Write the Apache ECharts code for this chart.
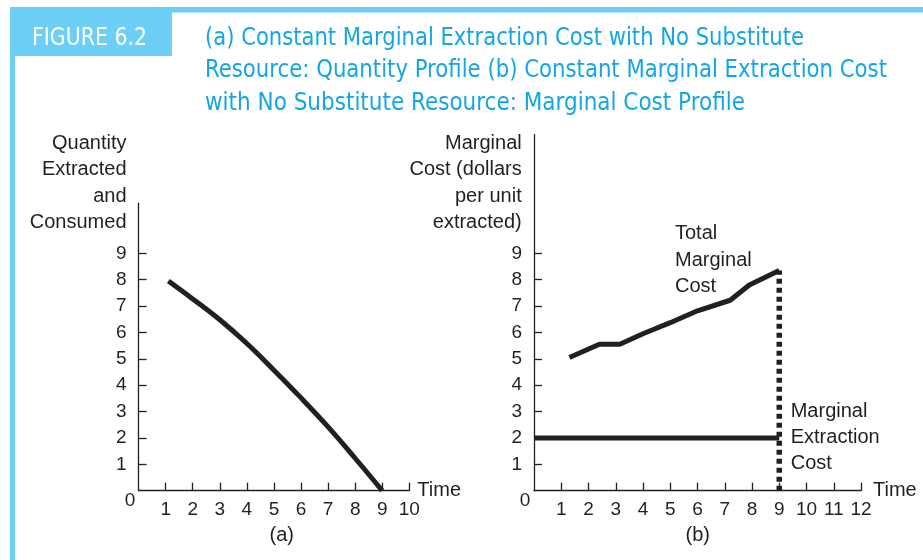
<!DOCTYPE html>
<html>
<head>
<meta charset="utf-8">
<title>Figure 6.2</title>
<script src="https://cdn.jsdelivr.net/npm/echarts@6/dist/echarts.min.js"></script>
<style>
  html, body { margin: 0; padding: 0; background: #fff; }
  #chart { width: 923px; height: 560px; }
</style>
</head>
<body>
<div id="chart"></div>
<script>
// (a) quantity profile
const timeA = [1.1, 2, 3, 4, 5, 6, 7, 8, 9]
const quantityA = [7.95, 7.27, 6.48, 5.58, 4.57, 3.52, 2.42, 1.23, 0]
// (b) marginal cost profile
const timeB = [1.3, 2.4, 3.15, 4, 5, 6, 7.2, 7.9, 9]
const totalMC = [5.05, 5.55, 5.55, 5.95, 6.37, 6.82, 7.22, 7.8, 8.35]
const mecTime = [0, 9]
const mecCost = [2, 2]
const exhaustTime = [9, 9]
const exhaustCost = [0, 8.35]
// tick labels
const xTicksA = [1, 2, 3, 4, 5, 6, 7, 8, 9, 10]
const xTicksB = [1, 2, 3, 4, 5, 6, 7, 8, 9, 10, 11, 12]
const yTicks = [1, 2, 3, 4, 5, 6, 7, 8, 9]
const titleLines = [
  '(a) Constant Marginal Extraction Cost with No Substitute',
  'Resource: Quantity Profile (b) Constant Marginal Extraction Cost',
  'with No Substitute Resource: Marginal Cost Profile'
]

const INK = '#231f20'
const SANS = '"Liberation Sans", Arial, Helvetica, sans-serif'
const NARROW = '"Liberation Sans Narrow", "DejaVu Sans Condensed", "Liberation Sans", sans-serif'
const LIGHT_BLUE = '#6dcff6'
const TITLE_BLUE = '#14a6e2'

const zip = (xs, ys) => xs.map((x, i) => [x, ys[i]])

// squeeze the condensed header text to the printed widths
const measureCtx = document.createElement('canvas').getContext('2d')
function fitScale (text, font, target) {
  measureCtx.font = font
  return target / measureCtx.measureText(text).width
}

function headerText (text, x, y, size, color, width) {
  const font = size + 'px ' + NARROW
  return {
    type: 'text',
    x: x,
    y: y,
    scaleX: fitScale(text, font, width),
    style: { text: text, font: font, fill: color, align: 'left', verticalAlign: 'bottom' }
  }
}

function label (text, x, y, align, extra) {
  return {
    type: 'text',
    x: x,
    y: y,
    style: Object.assign({
      text: text,
      font: '20px ' + SANS,
      fill: INK,
      align: align,
      verticalAlign: 'middle',
      lineHeight: 26.3
    }, extra || {})
  }
}

function xAxisCfg (gridIndex, max, ticks, gap) {
  return {
    type: 'value',
    gridIndex: gridIndex,
    min: 0,
    max: max,
    axisLine: { onZero: false, lineStyle: { color: INK, width: 1.3 } },
    axisTick: { inside: true, length: 8, customValues: ticks, lineStyle: { color: INK, width: 1.3 } },
    axisLabel: { customValues: ticks, margin: 10, color: INK, fontSize: 19, fontFamily: SANS },
    splitLine: { show: false },
    name: 'Time',
    nameLocation: 'end',
    nameGap: gap,
    nameTextStyle: { color: INK, fontSize: 20, fontFamily: SANS, verticalAlign: 'middle', padding: [0, 0, 9, 0] }
  }
}

function yAxisCfg (gridIndex, max) {
  return {
    type: 'value',
    gridIndex: gridIndex,
    min: 0,
    max: max,
    axisLine: { onZero: false, lineStyle: { color: INK, width: 1.3 } },
    axisTick: { inside: true, length: 8, customValues: yTicks, lineStyle: { color: INK, width: 1.3 } },
    axisLabel: { customValues: yTicks, margin: 12, color: INK, fontSize: 19, fontFamily: SANS },
    splitLine: { show: false }
  }
}

const chart = echarts.init(document.getElementById('chart'), null, { renderer: 'canvas' })

const option = {
  animation: false,
  backgroundColor: '#fff',
  grid: [
    { left: 138.6, top: 203.2, width: 270.7, height: 287.5 },
    { left: 534, top: 134.6, width: 327, height: 356.1 }
  ],
  xAxis: [xAxisCfg(0, 10, xTicksA, 8), xAxisCfg(1, 12, xTicksB, 12)],
  yAxis: [yAxisCfg(0, 10.9), yAxisCfg(1, 13.5)],
  series: [
    {
      type: 'line',
      xAxisIndex: 0,
      yAxisIndex: 0,
      data: zip(timeA, quantityA),
      smooth: 0.4,
      symbol: 'none',
      lineStyle: { color: INK, width: 5, cap: 'butt' }
    },
    {
      type: 'line',
      xAxisIndex: 1,
      yAxisIndex: 1,
      data: zip(timeB, totalMC),
      symbol: 'none',
      lineStyle: { color: INK, width: 5, cap: 'butt' }
    },
    {
      type: 'line',
      xAxisIndex: 1,
      yAxisIndex: 1,
      data: zip(mecTime, mecCost),
      symbol: 'none',
      lineStyle: { color: INK, width: 5, cap: 'butt' }
    },
    {
      type: 'line',
      xAxisIndex: 1,
      yAxisIndex: 1,
      data: zip(exhaustTime, exhaustCost),
      symbol: 'none',
      lineStyle: { color: INK, width: 5.5, type: [5, 4], cap: 'butt' }
    }
  ],
  graphic: [
    // frame and banner
    { type: 'rect', shape: { x: 10, y: 7, width: 913, height: 5.5 }, style: { fill: LIGHT_BLUE } },
    { type: 'rect', shape: { x: 10, y: 7, width: 5, height: 553 }, style: { fill: LIGHT_BLUE } },
    { type: 'rect', shape: { x: 10, y: 7, width: 162, height: 49 }, style: { fill: LIGHT_BLUE } },
    headerText('FIGURE 6.2', 32, 50.5, 25, '#fff', 115),
    headerText(titleLines[0], 205, 50.5, 25, TITLE_BLUE, 599),
    headerText(titleLines[1], 205, 83, 25, TITLE_BLUE, 682),
    headerText(titleLines[2], 205, 115.5, 25, TITLE_BLUE, 540),
    // axis titles
    label('Quantity\nExtracted\nand\nConsumed', 126.5, 183, 'right'),
    label('Marginal\nCost (dollars\nper unit\nextracted)', 521.7, 183, 'right'),
    // origins
    label('0', 130, 500.5, 'center', { font: '19px ' + SANS }),
    label('0', 525, 500.5, 'center', { font: '19px ' + SANS }),
    // panel tags
    label('(a)', 281.7, 535, 'center'),
    label('(b)', 697.7, 535, 'center'),
    // curve notes
    label('Total\nMarginal\nCost', 675, 260, 'left'),
    label('Marginal\nExtraction\nCost', 790.7, 437.3, 'left')
  ]
}

chart.setOption(option)
</script>
</body>
</html>
